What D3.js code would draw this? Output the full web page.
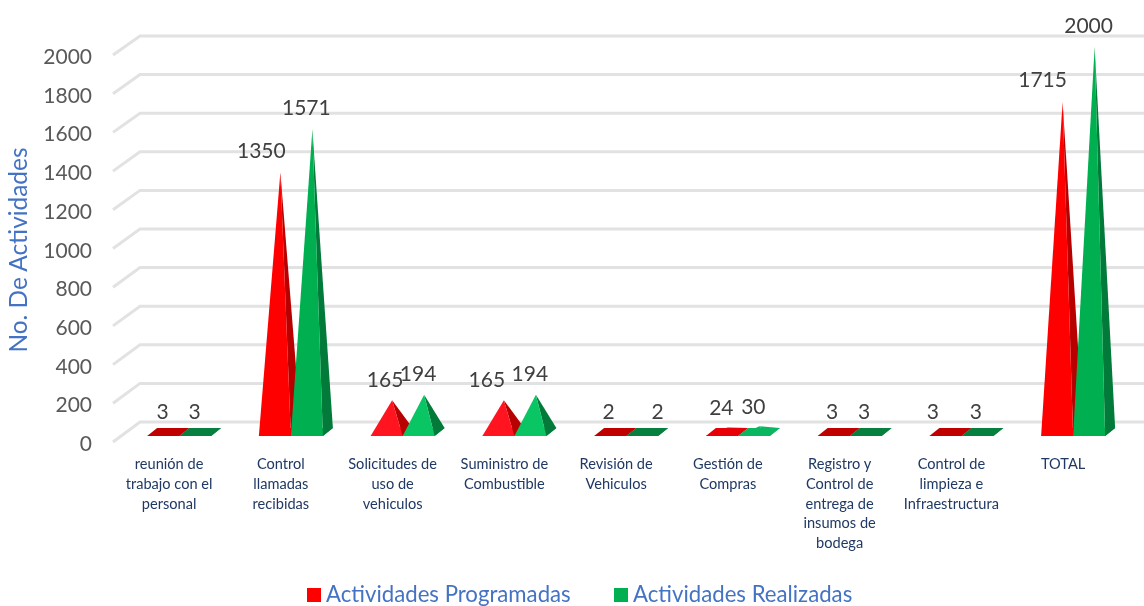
<!DOCTYPE html>
<html><head><meta charset="utf-8">
<script src="https://cdnjs.cloudflare.com/ajax/libs/d3/7.8.5/d3.min.js"></script>
<style>
html,body{margin:0;padding:0;background:#fff;overflow:hidden}
svg{display:block;filter:blur(0.45px)}
text{font-family:Lato,"Open Sans",sans-serif}
</style></head><body>
<svg id="c" width="1144" height="606"></svg>
<script>
const categories = [
  ["reunión de","trabajo con el","personal"],
  ["Control","llamadas","recibidas"],
  ["Solicitudes de","uso de","vehiculos"],
  ["Suministro de","Combustible"],
  ["Revisión de","Vehiculos"],
  ["Gestión de","Compras"],
  ["Registro y","Control de","entrega de","insumos de","bodega"],
  ["Control de","limpieza e","Infraestructura"],
  ["TOTAL"]
];
const programadas = [3,1350,165,165,2,24,3,3,1715];
const realizadas  = [3,1571,194,194,2,30,3,3,2000];
const tickValues  = [0,200,400,600,800,1000,1200,1400,1600,1800,2000];
const seriesNames = ["Actividades Programadas","Actividades Realizadas"];
const labelDxProg = [-6,-19,-7,-17,-7,-6,-7,-18,-20];
const labelDxReal = [-6,-6,-6,-6,10,-6,-7,-7,-6];

const svg = d3.select("#c");
const idx = categories.map((_,i)=>i);
const x = d3.scaleBand().domain(idx).range([123.25,1129]).paddingInner(0).paddingOuter(0);
const y = d3.scaleLinear().domain([0,2000]).range([432,47]);     // apex on the pyramid axis
const yBack = d3.scaleLinear().domain([0,2000]).range([422,36]); // back wall
const yTick = d3.scaleLinear().domain([0,2000]).range([442,55]); // front edge of wall

const W=32, DX=10, DY=8, FLOOR=436;

// grid
const grid = svg.append("g").attr("fill","none").attr("stroke","#e2e2e2").attr("stroke-width",3);
tickValues.forEach(v=>{
  grid.append("path").attr("d",`M113,${yTick(v)}L140,${yBack(v)}L1144,${yBack(v)}`);
});

// value axis labels
const axis = d3.axisLeft(yTick).tickValues(tickValues).tickSize(0).tickPadding(0).tickFormat(d3.format("d"));
const axG = svg.append("g").attr("transform","translate(92,1)").call(axis);
axG.select(".domain").remove();
axG.selectAll("text").attr("font-size",21).attr("fill","#595959").attr("dy","0.36em");

svg.append("text").attr("transform","translate(27,250) rotate(-90)")
  .attr("text-anchor","middle").attr("font-size",24.4).attr("fill","#4472c4").text("No. De Actividades");

// pyramids
const clr = {
  prog:{dark:"#c00000",front:"#ff0000",low:"#ff1420",side:"#b80000",mid:"#e80008"},
  real:{dark:"#07803f",front:"#00b050",low:"#0bc765",side:"#027a3a",mid:"#0bb560"}
};
function frontColor(c,v){
  return d3.scaleLinear().domain([0,12,24,160,500]).range([c.dark,c.dark,c.mid,c.low,c.front]).clamp(true)(v);
}
function pyramid(g,vals,offset,c){
  idx.forEach(i=>{
    const x0 = x(i)+x.bandwidth()/2+offset;
    const v = vals[i];
    const ax = x0+W/2+DX/2+0.5, ay=y(v);
    const low = v<50;
    const fc = frontColor(c,v);
    const gg = g.append("g");
    gg.append("path").attr("fill",low?fc:c.dark)
      .attr("d",`M${x0},${FLOOR}L${x0+W},${FLOOR}L${x0+W+DX},${FLOOR-DY}L${x0+DX},${FLOOR-DY}Z`);
    gg.append("path").attr("fill",low?fc:c.side)
      .attr("d",`M${x0+W},${FLOOR}L${x0+W+DX},${FLOOR-DY}L${ax},${ay}Z`);
    gg.append("path").attr("fill",fc)
      .attr("d",`M${x0},${FLOOR}L${x0+W},${FLOOR}L${ax},${ay}Z`);
  });
}
pyramid(svg.append("g"),programadas,-W,clr.prog);
pyramid(svg.append("g"),realizadas,0,clr.real);

// data labels
function labels(vals,offset,dxs){
  svg.append("g").selectAll("text").data(vals).join("text")
    .attr("x",(d,i)=>x(i)+x.bandwidth()/2+offset+W/2+DX/2+0.5+dxs[i])
    .attr("y",(d,i)=>y(d)-(d>1000?22:d>100?21:20)+7.5)
    .attr("text-anchor","middle").attr("font-size",21).attr("fill","#404040").text(d=>d);
}
labels(programadas,-W,labelDxProg);
labels(realizadas,0,labelDxReal);

// category labels
const cat = svg.append("g");
idx.forEach(i=>{
  const t = cat.append("text").attr("text-anchor","middle").attr("font-size",14.6).attr("fill","#1f3864");
  categories[i].forEach((line,k)=>{
    t.append("tspan").attr("x",x(i)+x.bandwidth()/2-10).attr("y",469+k*19.8).text(line);
  });
});

// legend
const legX=[307,614], legC=["#ff0000","#00b050"];
seriesNames.forEach((n,i)=>{
  svg.append("rect").attr("x",legX[i]).attr("y",588).attr("width",14).attr("height",14).attr("fill",legC[i]);
  svg.append("text").attr("x",legX[i]+19).attr("y",602).attr("font-size",22.2).attr("fill","#4472c4").text(n);
});
</script></body></html>
